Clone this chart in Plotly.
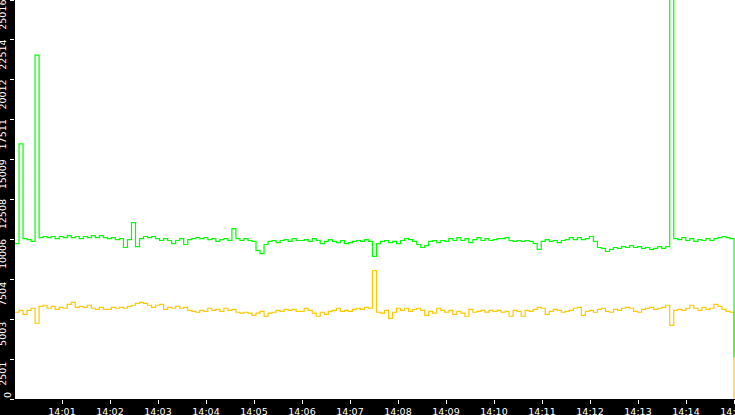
import pandas as pd
import plotly.graph_objects as go

# samples, 180 points between start and end
START = "2024-01-01 14:00:01.25"
END = "2024-01-01 14:15:00"

green_vals = [
    9750, 16000, 10060, 10000, 9880, 21560, 10120, 10190, 10120, 10190,
    10060, 10190, 10120, 10250, 10120, 10190, 10060, 10190, 10120, 10250,
    10120, 10250, 10120, 10060, 10120, 10000, 10060, 9500, 10000, 11060,
    9560, 10060, 10190, 10120, 10190, 10060, 9940, 10060, 9940, 9750,
    9940, 10060, 9690, 10000, 10060, 10120, 10060, 10120, 10000, 10060,
    9880, 10000, 10060, 9940, 10690, 10060, 9940, 10060, 9940, 9880,
    9310, 9120, 9690, 9880, 9940, 9810, 9940, 10000, 9880, 10060,
    9940, 9940, 10000, 9880, 10060, 9940, 9750, 9880, 10000, 9880,
    9810, 9940, 9750, 9810, 9880, 9940, 9880, 10000, 9880, 8940,
    9750, 9880, 9940, 9810, 9880, 9750, 9940, 10060, 10000, 9880,
    9690, 9500, 9620, 9880, 9940, 9810, 9940, 9880, 10060, 9940,
    10120, 9940, 10060, 9810, 10000, 10120, 9940, 10060, 9940, 10000,
    10060, 10060, 10120, 9940, 9880, 9940, 9880, 9940, 9880, 9750,
    9380, 9880, 10000, 9880, 9940, 9810, 9940, 10000, 10120, 10000,
    10120, 10000, 10060, 10190, 9880, 9500, 9440, 9250, 9380, 9500,
    9440, 9560, 9500, 9620, 9500, 9560, 9440, 9500, 9380, 9440,
    9560, 9440, 9560, 26500, 10060, 10000, 10120, 9940, 10060, 9880,
    10000, 9940, 10060, 9940, 10060, 10120, 10190, 10120, 10060, 2600,
]

yellow_vals = [
    5440, 5560, 5310, 5560, 5690, 4750, 5810, 5880, 5690, 5810,
    5620, 5750, 5690, 5940, 6060, 5750, 5810, 5750, 5880, 5690,
    5620, 5750, 5620, 5620, 5750, 5690, 5750, 5690, 5810, 5880,
    6000, 6060, 6000, 5880, 5750, 5880, 5940, 5620, 5750, 5690,
    5810, 5690, 5750, 5560, 5500, 5440, 5560, 5500, 5690, 5560,
    5620, 5500, 5690, 5560, 5620, 5440, 5380, 5440, 5380, 5250,
    5380, 5500, 5190, 5380, 5440, 5560, 5500, 5620, 5560, 5620,
    5500, 5500, 5690, 5560, 5380, 5190, 5440, 5310, 5500, 5560,
    5690, 5500, 5560, 5500, 5620, 5690, 5620, 5750, 5690, 8060,
    5440, 5380, 5560, 5060, 5440, 5690, 5560, 5690, 5500, 5620,
    5690, 5560, 5250, 5500, 5380, 5690, 5560, 5440, 5560, 5310,
    5500, 5380, 5190, 5620, 5440, 5500, 5560, 5440, 5560, 5500,
    5560, 5440, 5500, 5190, 5560, 5500, 5190, 5560, 5500, 5620,
    5750, 5690, 5310, 5500, 5620, 5560, 5440, 5500, 5560, 5690,
    5750, 5250, 5500, 5560, 5440, 5620, 5690, 5500, 5440, 5620,
    5560, 5690, 5750, 5690, 5500, 5440, 5620, 5690, 5750, 5620,
    5690, 5750, 5880, 4620, 5560, 5620, 5560, 5690, 5880, 5690,
    5560, 5750, 5620, 5690, 5940, 5810, 5620, 5500, 5440, 0,
]

y_ticks = [0, 2501, 5003, 7504, 10006, 12508, 15009, 17511, 20012, 22514, 25016]

times = pd.date_range(START, END, periods=len(green_vals))

fig = go.Figure()

for vals, colour in [
    (yellow_vals, "#ffc800"),
    (green_vals,  "#00ff00"),
]:
    fig.add_trace(
        go.Scatter(
            x           = times,
            y           = vals,
            mode        = "lines",
            line        = {"color": colour, "width": 1.2, "shape": "hv"},
            hoverinfo   = "skip",
        )
    )

fig.update_layout(
    width           = 735,
    height          = 415,
    margin          = {"l": 15, "r": 0, "t": 0, "b": 16, "pad": 0},
    paper_bgcolor   = "black",
    plot_bgcolor    = "white",
    showlegend      = False,
    font            = {"family": "DejaVu Sans", "size": 9.5, "color": "white"},
)

fig.update_xaxes(
    type                = "date",
    range               = ["2024-01-01 14:00:01.25", "2024-01-01 14:15:01.25"],
    tick0               = "2024-01-01 14:01:00",
    dtick               = 60000,
    tickformat          = "%H:%M",
    ticks               = "outside",
    ticklen             = 4,
    tickcolor           = "white",
    ticklabeloverflow   = "allow",
    showgrid            = False,
    zeroline            = False,
    showline            = False,
    automargin          = False,
)

# the bottom "0" label sits above its tick, so it is drawn as an annotation
fig.update_yaxes(
    range               = [0, 25022],
    tickvals            = y_ticks,
    ticktext            = [""] + [str(v) for v in y_ticks[1:]],
    tickangle           = -90,
    ticklabelshift      = 16,
    ticks               = "outside",
    ticklen             = 4,
    tickcolor           = "white",
    ticklabeloverflow   = "allow",
    showgrid            = False,
    zeroline            = False,
    showline            = False,
    automargin          = False,
)

fig.add_annotation(
    text        = str(y_ticks[0]),
    xref        = "paper",
    yref        = "y",
    x           = -0.011,
    y           = y_ticks[0],
    xanchor     = "center",
    yanchor     = "bottom",
    textangle   = -90,
    showarrow   = False,
    borderpad   = 0,
    font        = {"color": "white", "size": 9.5},
)

# drop the browser's default 8px body margin so the chart sits at the corner
fig.write_html(
    "out.html",
    config      = {"displayModeBar": False},
    post_script = "document.body.style.margin = '0'; document.body.style.background = 'black';",
)
